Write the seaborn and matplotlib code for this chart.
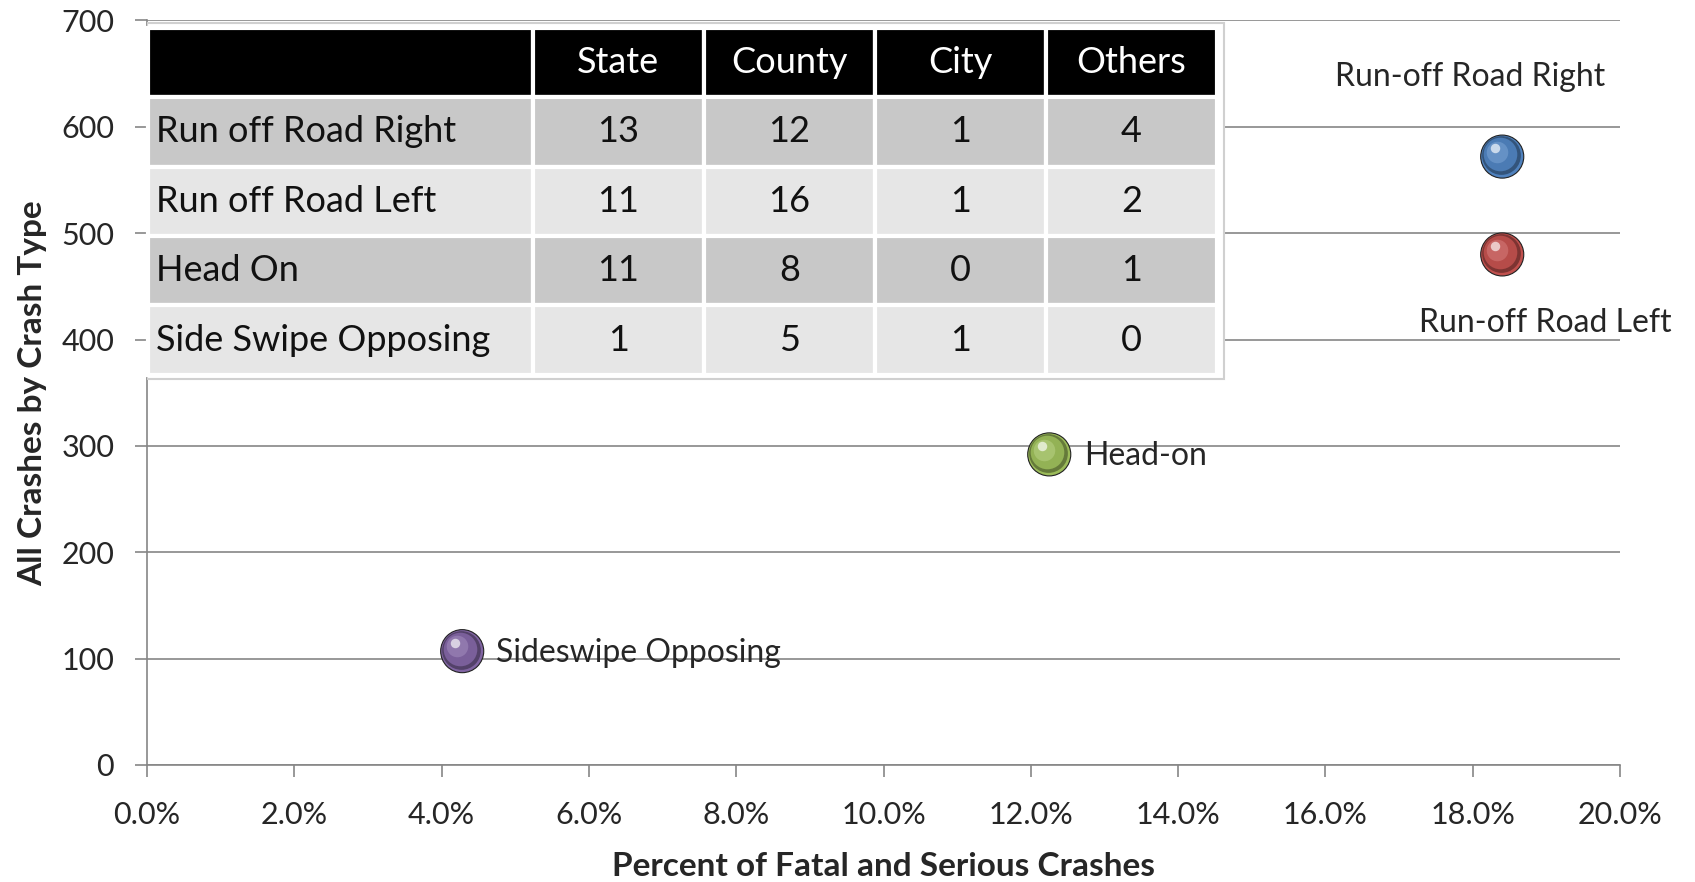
import numpy as np
import pandas as pd
import matplotlib
matplotlib.use('Agg')
import matplotlib.pyplot as plt
from matplotlib.transforms import offset_copy
from matplotlib.ticker import PercentFormatter, MultipleLocator
from matplotlib.colors import to_rgb
from matplotlib.patches import Rectangle
import seaborn as sns

""" DATA """
crash_types = ['Run-off Road Right', 'Run-off Road Left', 'Head-on', 'Sideswipe Opposing']
pct_fatal_serious = [0.184, 0.184, 0.1225, 0.0428]
all_crashes = [572, 480, 292, 107]
colors = ['#4f81bd', '#c0504d', '#9bbb59', '#8064a2']

table_rows = ['Run off Road Right', 'Run off Road Left', 'Head On', 'Side Swipe Opposing']
table_cols = ['State', 'County', 'City', 'Others']
state = [13, 11, 11, 1]
county = [12, 16, 8, 5]
city = [1, 1, 0, 1]
others = [4, 2, 1, 0]

# label placement: (dx, dy) in points, ha, va
label_pos = [((-23, 57), 'center', 'center'),
             ((31, -49), 'center', 'center'),
             ((25, -1), 'left', 'center'),
             ((24, -1), 'left', 'center')]

""" STYLE """
sns.set_style('white')
plt.rcParams['font.family'] = ['Lato', 'DejaVu Sans']
grid_c = '#868686'

df = pd.DataFrame({'type': crash_types, 'pct': pct_fatal_serious, 'crashes': all_crashes})

fig = plt.figure(figsize=(16.95, 8.82), dpi=100)
ax = fig.add_axes([0.0867, 0.1327, 0.8691, 0.8441])

ax.set_xlim(0, 0.2)
ax.set_ylim(0, 700)
ax.xaxis.set_major_locator(MultipleLocator(0.02))
ax.yaxis.set_major_locator(MultipleLocator(100))
ax.xaxis.set_major_formatter(PercentFormatter(xmax=1, decimals=1))
ax.set_axisbelow(True)
ax.yaxis.grid(True, color=grid_c, lw=1.2)
ax.xaxis.grid(False)
for s in ['top', 'right']:
	ax.spines[s].set_visible(False)
for s in ['left', 'bottom']:
	ax.spines[s].set_color(grid_c)
	ax.spines[s].set_linewidth(1.2)
ax.tick_params(axis='both', which='major', direction='out', length=8.6, width=1.2,
	color=grid_c, labelsize=22, bottom=True, left=True)
ax.tick_params(axis='x', pad=17)
ax.tick_params(axis='y', pad=15)

ax.set_xlabel('Percent of Fatal and Serious Crashes', fontsize=24, fontweight='bold', labelpad=17)
ax.set_ylabel('All Crashes by Crash Type', fontsize=24, fontweight='bold', labelpad=10)

""" SPHERES """
d = 31  # marker diameter in points
sns.scatterplot(data=df, x='pct', y='crashes', hue='type', palette=colors, s=d**2,
	edgecolor='#222222', linewidth=0.8, legend=False, ax=ax, zorder=6)

def shade(c, f):
	r = np.array(to_rgb(c))
	if f < 0:
		return tuple(r * (1 + f))
	return tuple(r + (1 - r) * f)

layers = [(0.9, (-0.8, 0.8), -0.35, 1.0),
	(0.78, (-1.8, 1.8), -0.05, 1.0),
	(0.5, (-3.5, 3.5), 0.15, 0.9),
	(0.22, (-5.0, 6.0), 0.8, 0.85)]
for k in range(len(crash_types)):
	for frac, (dx, dy), f, a in layers:
		tr = offset_copy(ax.transData, fig=fig, x=dx, y=dy, units='points')
		ax.scatter([pct_fatal_serious[k]], [all_crashes[k]], s=(d * frac) ** 2,
			color=shade(colors[k], f), alpha=a, linewidths=0, transform=tr, zorder=7)
	(dx, dy), ha, va = label_pos[k]
	ax.annotate(crash_types[k], (pct_fatal_serious[k], all_crashes[k]), xytext=(dx, dy),
		textcoords='offset points', ha=ha, va=va, fontsize=23, zorder=8)

""" TABLE """
cell_text = [[''] + table_cols]
for i, r in enumerate(table_rows):
	cell_text.append([r, str(state[i]), str(county[i]), str(city[i]), str(others[i])])

tb_box = [0.0007, 0.524, 0.7257, 0.466]
ax.add_patch(Rectangle((tb_box[0] - 0.001, tb_box[1] - 0.006), tb_box[2] + 0.006, tb_box[3] + 0.012,
	transform=ax.transAxes, facecolor='white', edgecolor='#d0d0d0', lw=1.5, zorder=4))
tb = ax.table(cellText=cell_text, cellLoc='center', colWidths=[0.36, 0.16, 0.16, 0.16, 0.16],
	bbox=tb_box, zorder=5)
tb.auto_set_font_size(False)
tb.set_fontsize(26)
row_fill = ['#000000', '#c8c8c8', '#e6e6e6', '#c8c8c8', '#e6e6e6']
for (r, c), cell in tb.get_celld().items():
	cell.set_facecolor(row_fill[r])
	cell.set_edgecolor('white')
	cell.set_linewidth(3)
	cell.get_text().set_color('white' if r == 0 else '#111111')
	if c == 0:
		cell.PAD = 0.02
		cell.get_text().set_horizontalalignment('left')
tb.set_zorder(5)

fig.savefig('out.png', dpi=100)
